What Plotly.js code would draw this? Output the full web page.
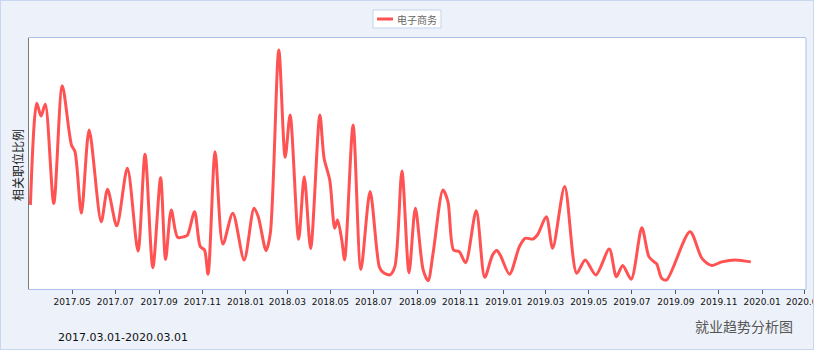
<!DOCTYPE html>
<html>
<head>
<meta charset="utf-8">
<script src="https://cdn.plot.ly/plotly-3.0.1.min.js"></script>
<style>
  html, body { margin: 0; padding: 0; background: #EDF2FA; }
  #wrap { position: relative; width: 814px; height: 350px; }
  #chart { width: 814px; height: 350px; }
  #frame { position: absolute; left: 0; top: 0; width: 814px; height: 350px; box-sizing: border-box;
           border: 1px solid #C8D7EF; pointer-events: none; }
</style>
</head>
<body>
<div id="wrap"><div id="chart"></div><div id="frame"></div></div>
<script>
// ---- data ----
const seriesName = '电子商务';
const dates = [
  '2017-03-03','2017-03-12','2017-03-18','2017-03-24','2017-04-05','2017-04-17','2017-04-30','2017-05-05',
  '2017-05-14','2017-05-25','2017-06-11','2017-06-20','2017-07-03','2017-07-18','2017-08-02','2017-08-12',
  '2017-08-23','2017-09-03','2017-09-10','2017-09-18','2017-09-27','2017-10-06','2017-10-11','2017-10-21',
  '2017-10-29','2017-11-04','2017-11-09','2017-11-19','2017-11-30','2017-12-14','2017-12-30','2018-01-13',
  '2018-01-19','2018-01-30','2018-02-05','2018-02-17','2018-02-26','2018-03-05','2018-03-17','2018-03-25',
  '2018-04-03','2018-04-16','2018-04-22','2018-04-30','2018-05-07','2018-05-11','2018-05-17','2018-05-21',
  '2018-06-02','2018-06-13','2018-06-26','2018-07-09','2018-07-14','2018-07-24','2018-07-31','2018-08-10',
  '2018-08-20','2018-08-29','2018-09-09','2018-09-16','2018-09-23','2018-10-07','2018-10-14','2018-10-22',
  '2018-10-30','2018-11-08','2018-11-23','2018-12-05','2018-12-16','2018-12-22','2018-12-27','2019-01-09',
  '2019-01-23','2019-01-31','2019-02-11','2019-02-18','2019-03-02','2019-03-11','2019-03-28','2019-04-14',
  '2019-04-26','2019-05-11','2019-05-30','2019-06-09','2019-06-18','2019-06-30','2019-07-15','2019-07-25',
  '2019-08-01','2019-08-05','2019-08-12','2019-08-19','2019-09-21','2019-10-08','2019-10-22','2019-11-05',
  '2019-11-24','2019-12-16'
];
const values = [
  33.5,74.0,68.9,73.6,34.1,81.0,57.4,54.7,
  30.2,63.3,26.8,39.7,25.2,48.1,15.1,53.7,
  8.5,44.3,11.8,31.5,20.6,20.8,21.5,30.8,
  16.9,15.5,5.9,54.7,17.9,30.2,11.6,32.2,
  28.8,15.3,22.2,95.2,52.5,69.3,19.8,44.7,
  16.1,69.3,52.1,43.4,24.2,27.5,19.5,11.6,
  65.3,7.8,38.8,8.9,6.7,5.6,8.9,47.0,
  6.5,32.2,7.6,3.3,14.2,39.4,34.8,15.5,
  14.9,10.5,31.2,4.7,13.5,15.3,13.5,5.9,
  16.9,20.2,19.9,21.8,28.8,16.2,40.8,6.3,
  11.6,5.6,15.9,4.9,9.4,3.9,24.4,12.9,
  10.9,10.0,4.3,3.6,22.8,12.2,9.4,10.8,
  11.6,10.8
];
const tickDates = ['2017-05-01','2017-07-01','2017-09-01','2017-11-01','2018-01-01','2018-03-01',
  '2018-05-01','2018-07-01','2018-09-01','2018-11-01','2019-01-01','2019-03-01','2019-05-01',
  '2019-07-01','2019-09-01','2019-11-01','2020-01-01','2020-03-01'];
const tickLabels = ['2017.05','2017.07','2017.09','2017.11','2018.01','2018.03','2018.05','2018.07',
  '2018.09','2018.11','2019.01','2019.03','2019.05','2019.07','2019.09','2019.11','2020.01','2020.03'];
const yTitle = '相关职位比例';
const periodText = '2017.03.01-2020.03.01';
const brandText = '就业趋势分析图';

// ---- layout helpers (pixel -> paper) ----
const L = 29, R = 806, T = 38, B = 289;
const px = x => (x - L) / (R - L);
const py = y => (B - y) / (B - T);
const lineColor = 'rgb(255,82,82)';
const cjk = '"Noto Sans CJK SC", "Noto Sans", sans-serif';

const trace = {
  x: dates, y: values, type: 'scatter', mode: 'lines', name: seriesName,
  line: { color: lineColor, width: 3, shape: 'spline', smoothing: 0.8 },
  hoverinfo: 'x+y', showlegend: false
};

const layout = {
  width: 814, height: 350,
  margin: { l: L, r: 814 - R, t: T, b: 350 - B, pad: 0 },
  paper_bgcolor: 'rgba(0,0,0,0)', plot_bgcolor: '#FFFFFF',
  showlegend: false,
  xaxis: {
    type: 'date', range: ['2017-03-01', '2020-03-03'],
    tickvals: tickDates, ticktext: tickLabels,
    showgrid: false, zeroline: false,
    showline: true, linecolor: '#A9C0E8', linewidth: 1, mirror: true,
    ticks: 'outside', ticklen: 4, tickcolor: '#555', tickwidth: 1,
    ticklabeloverflow: 'allow',
    tickfont: { family: 'DejaVu Sans, sans-serif', size: 9, color: '#111' },
    fixedrange: true
  },
  yaxis: {
    range: [0, 100], showticklabels: false, showgrid: false, zeroline: false,
    showline: true, linecolor: '#7A7A7A', linewidth: 1, ticks: '', fixedrange: true
  },
  shapes: [
    { type: 'line', xref: 'paper', yref: 'paper', x0: 1, x1: 1, y0: 0, y1: 1,
      line: { color: '#A9C0E8', width: 1 } },
    { type: 'rect', xref: 'paper', yref: 'paper', x0: px(373), x1: px(441), y0: py(28), y1: py(10),
      fillcolor: '#FFFFFF', line: { color: '#C3D3EE', width: 1 } },
    { type: 'line', xref: 'paper', yref: 'paper', x0: px(377), x1: px(393), y0: py(19), y1: py(19),
      line: { color: lineColor, width: 3 } }
  ],
  annotations: [
    { text: seriesName, xref: 'paper', yref: 'paper', x: px(395), y: py(19.5), xanchor: 'left', yanchor: 'middle',
      showarrow: false, font: { family: cjk, size: 10, color: '#666' } },
    { text: yTitle, xref: 'paper', yref: 'paper', x: px(17), y: py(165), xanchor: 'center', yanchor: 'middle',
      textangle: -90, showarrow: false, font: { family: cjk, size: 12, color: '#222' } },
    { text: periodText, xref: 'paper', yref: 'paper', x: px(56), y: py(337), xanchor: 'left', yanchor: 'middle',
      showarrow: false, font: { family: 'DejaVu Sans, sans-serif', size: 11, color: '#111' } },
    { text: brandText, xref: 'paper', yref: 'paper', x: px(795), y: py(326), xanchor: 'right', yanchor: 'middle',
      showarrow: false, font: { family: cjk, size: 14, color: '#555' } }
  ]
};

Plotly.newPlot('chart', [trace], layout, { displayModeBar: false, staticPlot: true });
</script>
</body>
</html>
